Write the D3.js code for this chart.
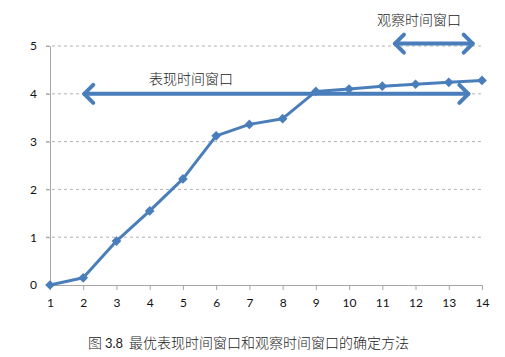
<!DOCTYPE html>
<html><head><meta charset="utf-8">
<script src="https://cdn.jsdelivr.net/npm/d3@7"></script>
<style>body{margin:0;background:#fff}</style>
</head><body>
<svg id="c" width="505" height="357"></svg>
<script>
const xValues = [1,2,3,4,5,6,7,8,9,10,11,12,13,14];
const yValues = [0,0.15,0.92,1.55,2.22,3.12,3.36,3.48,4.05,4.1,4.16,4.2,4.24,4.28];
const yTicks = [0,1,2,3,4,5];
const perfWindow = {from:2, to:13.62, y:4, label:"表现时间窗口"};
const obsWindow = {from:11.35, to:13.75, y:5.05, label:"观察时间窗口"};
const captionParts = ["图", "3.8", "最优表现时间窗口和观察时间窗口的确定方法"];

const svg = d3.select("#c");
const x = d3.scaleLinear().domain([1,14]).range([50,482]);
const y = d3.scaleLinear().domain([0,5]).range([285,46]);
const blue = "#4a7ebb";
const font = "Lato, 'Liberation Sans', sans-serif";
const cjk = "'Noto Sans CJK SC'";

// gridlines
svg.append("g").selectAll("line").data(yTicks.filter(d=>d>0)).join("line")
  .attr("x1",46).attr("x2",482).attr("y1",d=>y(d)).attr("y2",d=>y(d))
  .attr("stroke","#b3b3b3").attr("stroke-width",1).attr("stroke-dasharray","3,3");

// y axis
const ya = svg.append("g").attr("transform","translate(50,0)")
  .call(d3.axisLeft(y).tickValues(yTicks).tickSize(4).tickFormat(d3.format("d")));
ya.select(".domain").attr("stroke","#a6a6a6");
ya.selectAll(".tick line").attr("stroke","#a6a6a6");
ya.selectAll("text").attr("font-family",font).attr("font-size",12).attr("fill","#111").attr("dx",-6);

// x axis
const xa = svg.append("g").attr("transform","translate(0,285)")
  .call(d3.axisBottom(x).tickValues(xValues).tickSize(5).tickSizeOuter(0).tickFormat(d3.format("d")));
xa.select(".domain").attr("stroke","#a6a6a6");
xa.selectAll(".tick line").attr("stroke","#a6a6a6");
xa.selectAll("text").attr("font-family",font).attr("font-size",12).attr("fill","#111").attr("dy","1.15em");

// arrows
function arrow(w, lw){
  const g = svg.append("g").attr("stroke",blue).attr("stroke-width",lw).attr("fill","none")
    .attr("stroke-linecap","round").attr("stroke-linejoin","round");
  const x1 = x(w.from), x2 = x(w.to), yy = y(w.y), h = 9, a = 10;
  g.append("line").attr("x1",x1+1).attr("x2",x2-1).attr("y1",yy).attr("y2",yy);
  g.append("path").attr("d",`M${x1+a},${yy-h}L${x1+1},${yy}L${x1+a},${yy+h}`);
  g.append("path").attr("d",`M${x2-a},${yy-h}L${x2-1},${yy}L${x2-a},${yy+h}`);
}
arrow(perfWindow, 4);
arrow(obsWindow, 4);

// line
svg.append("path").datum(xValues.map((d,i)=>[d,yValues[i]]))
  .attr("fill","none").attr("stroke",blue).attr("stroke-width",3)
  .attr("stroke-linejoin","round")
  .attr("d",d3.line().x(d=>x(d[0])).y(d=>y(d[1])));
svg.append("g").selectAll("path").data(xValues.map((d,i)=>[d,yValues[i]])).join("path")
  .attr("transform",d=>`translate(${x(d[0])},${y(d[1])})`)
  .attr("d",d3.symbol(d3.symbolDiamond2,60)())
  .attr("fill",blue);

// labels
svg.append("text").attr("x",191).attr("y",84).attr("text-anchor","middle")
  .attr("font-family",cjk).attr("font-weight",300).attr("font-size",14).attr("fill","#222")
  .text(perfWindow.label);
svg.append("text").attr("x",419).attr("y",25).attr("text-anchor","middle")
  .attr("font-family",cjk).attr("font-weight",300).attr("font-size",14).attr("fill","#222")
  .text(obsWindow.label);
const cap = svg.append("text").attr("y",348).attr("font-size",14).attr("fill","#222")
  .attr("font-family",cjk).attr("font-weight",300);
cap.append("tspan").attr("x",88).text(captionParts[0]);
cap.append("tspan").attr("x",105).attr("font-family",font).attr("font-weight",400).attr("font-size",13).text(captionParts[1]);
cap.append("tspan").attr("x",129).attr("textLength",280).text(captionParts[2]);
</script>
</body></html>
